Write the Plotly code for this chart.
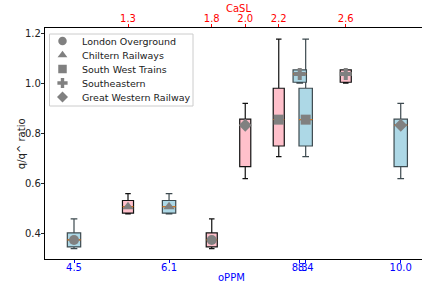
import plotly.graph_objects as go

companies = ["London Overground", "Chiltern Railways", "South West Trains", "Southeastern", "Great Western Railway"]
symbols = ["circle", "triangle-up", "square", "cross", "diamond"]

# oPPM (bottom axis, blue boxes)
oppm_pos = [4.5, 6.1, 8.4, 8.3, 10.0]
oppm_low = [0.341, 0.48, 0.708, 1.0, 0.62]
oppm_q1 = [0.348, 0.483, 0.75, 1.004, 0.668]
oppm_med = [0.376, 0.508, 0.855, 1.037, 0.833]
oppm_q3 = [0.404, 0.533, 0.98, 1.053, 0.857]
oppm_high = [0.46, 0.56, 1.176, 1.053, 0.92]

# CaSL (top axis, pink boxes)
casl_pos = [1.8, 1.3, 2.2, 2.6, 2.0]
casl_low = [0.341, 0.48, 0.708, 1.0, 0.62]
casl_q1 = [0.348, 0.483, 0.75, 1.004, 0.668]
casl_med = [0.376, 0.508, 0.855, 1.037, 0.833]
casl_q3 = [0.404, 0.533, 0.98, 1.053, 0.857]
casl_high = [0.46, 0.56, 1.176, 1.053, 0.92]

bottom_ticks = [4.5, 6.1, 8.3, 8.4, 10.0]
top_ticks = [1.3, 1.8, 2.0, 2.2, 2.6]
y_ticks = [0.4, 0.6, 0.8, 1.0, 1.2]

W_BLUE = 0.225
W_PINK = 0.066
MED_COLOR = "#ff7f0e"
FONT = "DejaVu Sans"

fig = go.Figure()

for i in range(len(companies)):
    fig.add_trace(go.Box(
        x=[oppm_pos[i]], q1=[oppm_q1[i]], median=[oppm_med[i]], q3=[oppm_q3[i]],
        lowerfence=[oppm_low[i]], upperfence=[oppm_high[i]],
        width=W_BLUE, whiskerwidth=0.5, fillcolor="#add8e6",
        line=dict(color="#3d4a4f", width=1.2), xaxis="x", yaxis="y",
        showlegend=False, hoverinfo="skip", boxpoints=False))
    fig.add_trace(go.Box(
        x=[casl_pos[i]], q1=[casl_q1[i]], median=[casl_med[i]], q3=[casl_q3[i]],
        lowerfence=[casl_low[i]], upperfence=[casl_high[i]],
        width=W_PINK, whiskerwidth=0.5, fillcolor="#ffc0cb",
        line=dict(color="#111111", width=1.2), xaxis="x2", yaxis="y",
        showlegend=False, hoverinfo="skip", boxpoints=False))

for i in range(len(companies)):
    fig.add_trace(go.Scatter(
        x=[oppm_pos[i] - W_BLUE / 2, oppm_pos[i] + W_BLUE / 2], y=[oppm_med[i], oppm_med[i]],
        mode="lines", line=dict(color=MED_COLOR, width=1), xaxis="x", yaxis="y",
        showlegend=False, hoverinfo="skip"))
    fig.add_trace(go.Scatter(
        x=[casl_pos[i] - W_PINK / 2, casl_pos[i] + W_PINK / 2], y=[casl_med[i], casl_med[i]],
        mode="lines", line=dict(color=MED_COLOR, width=1), xaxis="x2", yaxis="y",
        showlegend=False, hoverinfo="skip"))

for i, name in enumerate(companies):
    fig.add_trace(go.Scatter(
        x=[oppm_pos[i]], y=[oppm_med[i]], mode="markers", name=name,
        marker=dict(symbol=symbols[i], color="#808080", size=10, line=dict(width=0)),
        xaxis="x", yaxis="y", showlegend=False))
    fig.add_trace(go.Scatter(
        x=[casl_pos[i]], y=[casl_med[i]], mode="markers", name=name,
        marker=dict(symbol=symbols[i], color="#808080", size=10, line=dict(width=0)),
        xaxis="x2", yaxis="y", showlegend=False))

# Custom legend (matplotlib-like compact spacing) on a pixel-coordinate overlay axis
LEG_X0, LEG_Y0, LEG_X1, LEG_Y1 = 49.5, 34, 193, 106
ROW0, ROW_STEP = 41, 14
fig.add_shape(type="rect", xref="x3", yref="y3", x0=LEG_X0, x1=LEG_X1, y0=LEG_Y0, y1=LEG_Y1,
              line=dict(color="#cccccc", width=1), fillcolor="rgba(255,255,255,0.8)", layer="below")
fig.add_trace(go.Scatter(
    x=[62.5] * len(companies), y=[ROW0 + ROW_STEP * i for i in range(len(companies))],
    mode="markers", marker=dict(symbol=symbols, color="#808080", size=8.5, line=dict(width=0)),
    xaxis="x3", yaxis="y3", showlegend=False, hoverinfo="skip"))
for i, name in enumerate(companies):
    fig.add_annotation(x=80, y=ROW0 + ROW_STEP * i, xref="x3", yref="y3", text=name,
                       showarrow=False, xanchor="left", yanchor="middle",
                       font=dict(size=9.5, color="#1a1a1a"))

fig.add_annotation(text="oPPM", xref="paper", yref="paper", x=0.496, y=-0.082,
                   showarrow=False, xanchor="center", yanchor="middle",
                   font=dict(color="blue", size=10))
fig.add_annotation(text="CaSL", xref="paper", yref="paper", x=0.512, y=1.084,
                   showarrow=False, xanchor="center", yanchor="middle",
                   font=dict(color="red", size=10))
fig.add_annotation(text="q/q^ ratio", xref="paper", yref="paper", x=-0.062, y=0.5,
                   showarrow=False, xanchor="center", yanchor="middle", textangle=-90,
                   font=dict(color="#222", size=10))

fig.update_layout(
    template="none",
    width=422, height=288,
    margin=dict(l=45, r=0, t=28, b=29, pad=0),
    paper_bgcolor="white", plot_bgcolor="white",
    boxmode="overlay", showlegend=False,
    font=dict(family=FONT, size=10, color="#222"),
    xaxis=dict(
        range=[4.0118, 10.358], tickvals=bottom_ticks, automargin=False,
        ticktext=[f"{v:.1f}" for v in bottom_ticks], tickangle=0, ticklabelstandoff=-4,
        showgrid=False, zeroline=False, showline=True, linecolor="black", linewidth=1.2,
        ticks="outside", ticklen=3, tickcolor="blue", tickfont=dict(color="blue", size=10)),
    xaxis2=dict(
        range=[0.8045, 3.0552], overlaying="x", side="top", anchor="y", automargin=False,
        tickvals=top_ticks, ticktext=[f"{v:.1f}" for v in top_ticks], tickangle=0,
        ticklabelstandoff=-2,
        showgrid=False, zeroline=False, showline=True, linecolor="black", linewidth=1.2,
        ticks="outside", ticklen=3, tickcolor="red", tickfont=dict(color="red", size=10)),
    xaxis3=dict(range=[45, 422], overlaying="x", anchor="y3", visible=False,
                fixedrange=True, automargin=False),
    yaxis3=dict(range=[259, 28], overlaying="y", anchor="x3", visible=False,
                fixedrange=True, automargin=False),
    yaxis=dict(
        range=[0.3, 1.22], tickvals=y_ticks, automargin=False, ticklabelstandoff=-2,
        ticktext=[f"{v:.1f}" for v in y_ticks],
        showgrid=False, zeroline=False, showline=True, linecolor="black", linewidth=1.2,
        ticks="outside", ticklen=3, tickcolor="#222"),
)

fig.write_html("out.html", config={"displayModeBar": False},
               post_script="document.body.style.margin='0';document.body.style.overflow='hidden';")
